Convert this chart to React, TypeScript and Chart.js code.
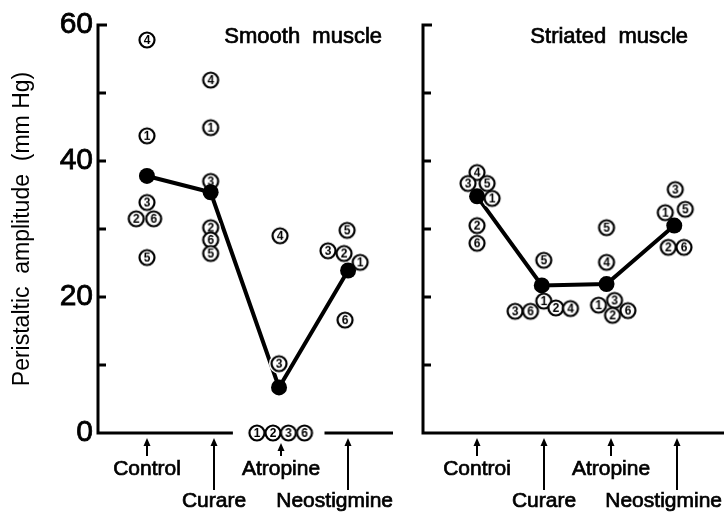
import React, { useEffect, useRef } from "react";
import { Chart, registerables } from "chart.js";

Chart.register(...registerables);

const FONT = "'Liberation Sans', Arial, Helvetica, sans-serif";

// Treatments in order along each axis
const smoothLabels = ["Control", "Curare", "Atropine", "Neostigmine"];
const striatedLabels = ["Controi", "Curare", "Atropine", "Neostigmine"];
const yAxisTitle = "Peristaltic  amplitude  (mm Hg)";
const yMinorTicks = [10, 20, 30, 40, 50];

// Mean peristaltic amplitude (mm Hg)
const smoothMeans = [37.8, 35.4, 6.7, 23.9];
const striatedMeans = [34.8, 21.7, 21.9, 30.5];

// Individual animals (circled numbers) per treatment
const smoothIds = [
  [4, 1, 3, 6, 2, 5],
  [4, 1, 3, 2, 6, 5],
  [4, 3, 1, 2, 3, 6],
  [5, 3, 2, 1, 6],
];
const smoothValues = [
  [57.8, 43.7, 33.9, 31.5, 31.5, 25.8],
  [51.9, 44.9, 37.0, 30.2, 28.4, 26.4],
  [29.0, 10.2, 0, 0, 0, 0],
  [29.8, 26.8, 26.4, 25.1, 16.6],
];
const striatedIds = [
  [4, 3, 5, 1, 2, 6],
  [5, 3, 6, 1, 2, 4],
  [5, 4, 1, 3, 2, 6],
  [3, 1, 5, 2, 6],
];
const striatedValues = [
  [38.3, 36.7, 36.7, 34.5, 30.5, 27.9],
  [25.4, 17.9, 17.9, 19.4, 18.4, 18.3],
  [30.2, 25.1, 18.8, 19.5, 17.3, 18.0],
  [35.8, 32.4, 32.9, 27.3, 27.3],
];

// Horizontal spread of the markers around each treatment (layout only)
const smoothJitter = [
  [0, 0, 0, 0.1, -0.16, 0],
  [-0.05, -0.05, -0.05, -0.05, -0.05, -0.05],
  [-0.015, -0.03, -0.36, -0.12, 0.11, 0.35],
  [-0.015, -0.3, -0.06, 0.18, -0.045],
];
const smoothMeanJitter = [0, -0.05, -0.03, 0];
const striatedJitter = [
  [0, -0.135, 0.15, 0.225, 0, 0],
  [0, -0.43, -0.2, 0, 0.18, 0.4],
  [-0.06, -0.06, -0.18, 0.06, 0.03, 0.26],
  [-0.03, -0.18, 0.12, -0.135, 0.1],
];
const striatedMeanJitter = [0, -0.03, -0.06, -0.045];

type Panel = {
  labels: string[];
  means: number[];
  meanJitter: number[];
  ids: number[][];
  values: number[][];
  jitter: number[][];
  xMin: number;
  xMax: number;
  title: string;
  titleX: number;
  showYLabels: boolean;
  padding: { left: number; right: number; top: number; bottom: number };
};

const smoothPanel: Panel = {
  labels: smoothLabels,
  means: smoothMeans,
  meanJitter: smoothMeanJitter,
  ids: smoothIds,
  values: smoothValues,
  jitter: smoothJitter,
  xMin: 0.27,
  xMax: 4.67,
  title: "Smooth  muscle",
  titleX: 3.33,
  showYLabels: true,
  padding: { left: 0, right: 7, top: 25, bottom: 79 },
};

const striatedPanel: Panel = {
  labels: striatedLabels,
  means: striatedMeans,
  meanJitter: striatedMeanJitter,
  ids: striatedIds,
  values: striatedValues,
  jitter: striatedJitter,
  xMin: 0.19,
  xMax: 4.7,
  title: "Striated  muscle",
  titleX: 2.98,
  showYLabels: false,
  padding: { left: 23, right: 0, top: 25, bottom: 79 },
};

const circleCache: Record<number, HTMLCanvasElement> = {};
function circledNumber(n: number): HTMLCanvasElement {
  if (circleCache[n]) return circleCache[n];
  const s = 20;
  const c = document.createElement("canvas");
  c.width = s;
  c.height = s;
  const ctx = c.getContext("2d")!;
  ctx.beginPath();
  ctx.arc(s / 2, s / 2, 7.5, 0, Math.PI * 2);
  ctx.fillStyle = "#fff";
  ctx.fill();
  ctx.lineWidth = 2.2;
  ctx.strokeStyle = "#000";
  ctx.stroke();
  ctx.fillStyle = "#000";
  ctx.font = `bold 12px ${FONT}`;
  ctx.textAlign = "center";
  ctx.textBaseline = "middle";
  ctx.fillText(String(n), s / 2, s / 2 + 0.5);
  circleCache[n] = c;
  return c;
}

function heavyText(ctx: CanvasRenderingContext2D, text: string, x: number, y: number) {
  ctx.fillText(text, x, y);
  ctx.lineWidth = 0.7;
  ctx.strokeText(text, x, y);
}

const decor = {
  id: "decor",
  beforeDatasetsDraw(chart: any) {
    const { ctx, chartArea, scales } = chart;
    const { left, right, top, bottom } = chartArea;
    const y = scales.y;
    const x = scales.x;
    // zero-value markers break the x axis
    const pts = chart.data.datasets[1].data as { x: number; y: number }[];
    const zeros = pts.filter((p) => p.y === 0).map((p) => x.getPixelForValue(p.x));
    ctx.save();
    ctx.strokeStyle = "#000";
    ctx.lineWidth = 3;
    ctx.lineJoin = "miter";
    ctx.lineCap = "butt";
    const firstEnd = zeros.length ? Math.min(...zeros) - 24 : right;
    ctx.beginPath();
    ctx.moveTo(left + 9, top);
    ctx.lineTo(left, top);
    ctx.lineTo(left, bottom);
    ctx.lineTo(firstEnd, bottom);
    ctx.stroke();
    if (zeros.length) {
      ctx.beginPath();
      ctx.moveTo(Math.max(...zeros) + 20, bottom);
      ctx.lineTo(right, bottom);
      ctx.stroke();
    }
    for (const v of yMinorTicks) {
      const py = y.getPixelForValue(v);
      ctx.beginPath();
      ctx.moveTo(left, py);
      ctx.lineTo(left + 8, py);
      ctx.stroke();
    }
    ctx.restore();
  },
  afterDraw(chart: any, _args: any, opts: any) {
    const { ctx, chartArea, scales } = chart;
    const { right, top, bottom } = chartArea;
    const x = scales.x;
    const labels: string[] = opts.labels;
    const pts = chart.data.datasets[1].data as { x: number; y: number }[];
    ctx.save();
    ctx.fillStyle = "#000";
    ctx.strokeStyle = "#000";
    labels.forEach((lab, i) => {
      const px = Math.round(x.getPixelForValue(i + 1));
      const lower = i % 2 === 1;
      const hasZero = pts.some((p) => p.y === 0 && Math.abs(p.x - (i + 1)) < 0.5);
      const tipY = bottom + (hasZero ? 10 : 5);
      const endY = lower ? bottom + 57 : bottom + 23;
      ctx.lineWidth = 2;
      ctx.beginPath();
      ctx.moveTo(px, tipY + 6);
      ctx.lineTo(px, endY);
      ctx.stroke();
      ctx.beginPath();
      ctx.moveTo(px, tipY);
      ctx.lineTo(px - 3.5, tipY + 8);
      ctx.lineTo(px + 3.5, tipY + 8);
      ctx.closePath();
      ctx.fill();
      ctx.font = `21px ${FONT}`;
      ctx.textAlign = "center";
      ctx.textBaseline = "alphabetic";
      const w = ctx.measureText(lab).width;
      const maxRight = Math.min(right, chart.width - 2);
      let cx = px;
      if (cx + w / 2 > maxRight) cx = maxRight - w / 2;
      heavyText(ctx, lab, cx, lower ? bottom + 74 : bottom + 42);
    });
    ctx.font = `22px ${FONT}`;
    ctx.textAlign = "center";
    ctx.textBaseline = "alphabetic";
    heavyText(ctx, opts.title, x.getPixelForValue(opts.titleX), top + 18);
    ctx.restore();
  },
};

function PanelChart({ panel, left, width }: { panel: Panel; left: number; width: number }) {
  const ref = useRef<HTMLCanvasElement>(null);
  useEffect(() => {
    const pts: { x: number; y: number }[] = [];
    const styles: HTMLCanvasElement[] = [];
    panel.values.forEach((arr, i) =>
      arr.forEach((v, j) => {
        pts.push({ x: i + 1 + panel.jitter[i][j], y: v });
        styles.push(circledNumber(panel.ids[i][j]));
      })
    );
    const meanPts = panel.means.map((v, i) => ({ x: i + 1 + panel.meanJitter[i], y: v }));
    const yScale: any = {
      type: "linear",
      min: 0,
      max: 60,
      display: panel.showYLabels,
      ticks: {
        stepSize: 20,
        color: "#000",
        padding: 5,
        font: { size: 30, family: FONT },
        textStrokeColor: "#000",
        textStrokeWidth: 0.8,
      },
      grid: { display: false, drawTicks: false },
      border: { display: false },
      title: {
        display: true,
        text: yAxisTitle,
        color: "#000",
        font: { size: 23, family: FONT },
        padding: { top: 9, bottom: 0 },
      },
    };
    if (panel.showYLabels) {
      yScale.afterFit = (s: any) => {
        s.width = 98;
      };
    }
    const chart = new Chart(ref.current!, {
      type: "scatter",
      data: {
        datasets: [
          {
            data: meanPts,
            pointRadius: 8,
            pointBackgroundColor: "#000",
            pointBorderColor: "#000",
            pointBorderWidth: 0,
            showLine: false,
            clip: false,
          } as any,
          {
            data: pts,
            pointStyle: (c: any) => styles[c.dataIndex],
            pointRadius: 8,
            showLine: false,
            clip: false,
          } as any,
          {
            data: pts,
            pointRadius: 10,
            pointBackgroundColor: "#fff",
            pointBorderColor: "#fff",
            pointBorderWidth: 0,
            showLine: false,
            clip: false,
          } as any,
          {
            data: meanPts,
            showLine: true,
            borderColor: "#000",
            borderWidth: 4,
            pointRadius: 0,
            clip: false,
          } as any,
        ],
      },
      options: {
        responsive: false,
        animation: false,
        events: [],
        layout: { padding: panel.padding, autoPadding: false } as any,
        plugins: {
          legend: { display: false },
          tooltip: { enabled: false },
          decor: { labels: panel.labels, title: panel.title, titleX: panel.titleX },
        } as any,
        scales: {
          x: { type: "linear", min: panel.xMin, max: panel.xMax, display: false },
          y: yScale,
        },
      },
      plugins: [decor],
    });
    return () => chart.destroy();
  }, []);
  return (
    <canvas
      ref={ref}
      width={width}
      height={512}
      style={{ position: "absolute", left, top: 0, width, height: 512 }}
    />
  );
}

export default function App() {
  return (
    <div style={{ position: "absolute", left: 0, top: 0, width: 724, height: 512, background: "#fff" }}>
      <PanelChart panel={smoothPanel} left={0} width={400} />
      <PanelChart panel={striatedPanel} left={400} width={324} />
    </div>
  );
}
